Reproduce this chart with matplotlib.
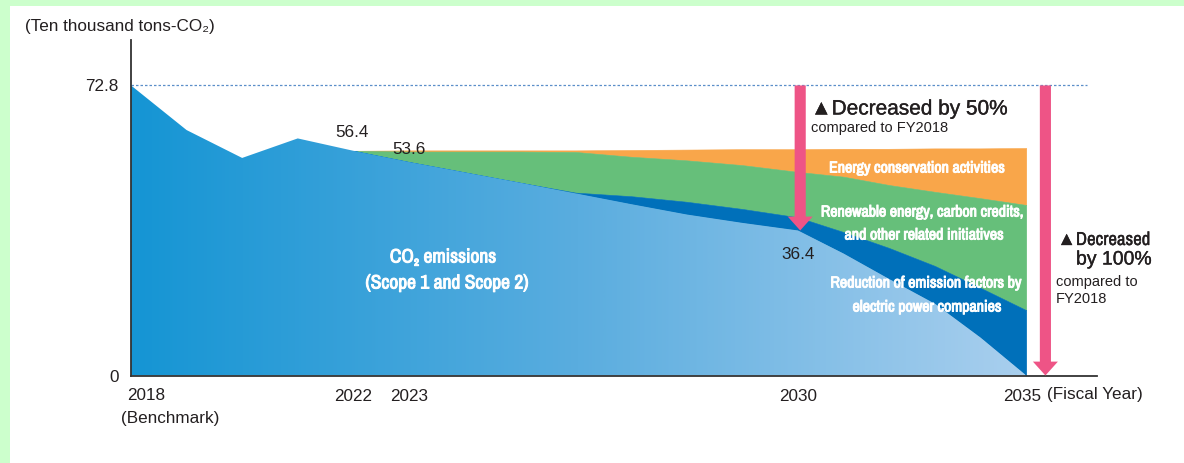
import numpy as np
import matplotlib
matplotlib.use("Agg")
import matplotlib.pyplot as plt
from matplotlib import font_manager as fm
from matplotlib import patheffects as pe
from matplotlib.patches import FancyArrowPatch, ArrowStyle, Rectangle
from matplotlib.colors import LinearSegmentedColormap
from matplotlib.transforms import ScaledTranslation

# ---- data (ten thousand tons-CO2) ----
hist_years = [2018, 2019, 2020, 2021, 2022]
hist_emissions = [72.8, 61.6, 54.6, 59.5, 56.4]

plan_years = list(range(2022, 2036))
plan_emissions = [56.4, 53.6, 51.0, 48.4, 45.7, 43.0, 40.4, 38.3, 36.4, 30.6, 24.2, 18.0, 9.5, 0.0]
cut_emission_factor = [0, 0, 0, 0, 0.2, 2.0, 3.2, 3.5, 3.3, 5.4, 7.8, 9.5, 12.5, 16.4]
cut_renewables = [0, 2.6, 5.2, 7.8, 10.2, 9.9, 10.4, 11.0, 11.4, 13.9, 15.8, 18.6, 22.5, 26.4]
cut_energy_saving = [0, 0.3, 0.3, 0.3, 0.4, 1.7, 2.7, 4.0, 5.7, 7.0, 9.1, 10.9, 12.5, 14.3]

base_year, base_value = 2018, 72.8
mid_year, mid_value = 2030, 36.4
target_year, target_value = 2035, 0.0
tick_years = [2022, 2023, 2030, 2035]

# ---- style ----
C_TEXT = "#231f20"
C_DARK = "#0070ba"
C_GREEN = "#66bf7a"
C_ORANGE = "#f9a64a"
C_PINK = "#ee5486"
C_PAGE = "#ccffcc"

names = {f.name for f in fm.fontManager.ttflist}
REG = ["Liberation Sans", "DejaVu Sans"]
narrow_names = [n for n in sorted(names) if "Narrow" in n or "Condensed" in n]
NARROW = (["Liberation Sans Narrow"] if "Liberation Sans Narrow" in names else narrow_names[:1]) + REG
plt.rcParams["font.family"] = REG

W, H = 1184, 463
fig = plt.figure(figsize=(W / 100, H / 100), dpi=100)
fig.patch.set_facecolor("white")
fig.add_artist(Rectangle((0, 1 - 6 / H), 1, 6 / H, transform=fig.transFigure,
                         color=C_PAGE, lw=0, zorder=-5))
fig.add_artist(Rectangle((0, 0), 10 / W, 1, transform=fig.transFigure,
                         color=C_PAGE, lw=0, zorder=-5))

x0, x1, yb, yt = 131, 1097, 375.5, 40
ax = fig.add_axes([x0 / W, 1 - yb / H, (x1 - x0) / W, (yb - yt) / H])
ax.set_facecolor("none")

# time axis: the last five years are drawn slightly compressed
K = 45.6 / 55.5


def fwd(x):
    x = np.asarray(x, float)
    return np.where(x <= 2030, x - 2018, 12 + (x - 2030) * K)


def inv(u):
    u = np.asarray(u, float)
    return np.where(u <= 12, u + 2018, 2030 + (u - 12) / K)


ax.set_xscale("function", functions=(fwd, inv))

# ---- stacked reduction bands ----
py = np.array(plan_years, float)
b0 = np.array(plan_emissions)
b1 = b0 + np.array(cut_emission_factor)
b2 = b1 + np.array(cut_renewables)
b3 = b2 + np.array(cut_energy_saving)
ax.fill_between(py, b2, b3, color=C_ORANGE, lw=0.4, ec=C_ORANGE, zorder=1)
ax.fill_between(py, b1, b2, color=C_GREEN, lw=0.4, ec=C_GREEN, zorder=2)
ax.fill_between(py, b0, b1, color=C_DARK, lw=0.4, ec=C_DARK, zorder=3)

# ---- emissions area with horizontal gradient ----
all_years = np.array(hist_years + plan_years[1:], float)
all_emis = np.array(hist_emissions + plan_emissions[1:])
poly = ax.fill_between(all_years, 0, all_emis, color="none", lw=0, zorder=4)
cmap = LinearSegmentedColormap.from_list("em", ["#1595d4", "#5aaddf", "#a9cfee"])
grad = np.linspace(0, 1, 512).reshape(1, -1)
im = ax.imshow(grad, cmap=cmap, aspect="auto", extent=[0, 0.925, 0, 1],
               transform=ax.transAxes, zorder=4, interpolation="bilinear")
im.set_clip_path(poly.get_paths()[0], ax.transData)

# ---- axes ----
ax.set_xlim(2018, 2036.55)
ax.set_ylim(0, 84.2)
for s in ["top", "right"]:
    ax.spines[s].set_visible(False)
for s in ["left", "bottom"]:
    ax.spines[s].set_color("#333333")
    ax.spines[s].set_linewidth(1.3)
    ax.spines[s].set_zorder(6)

FS = 12.3
ax.set_yticks([0, base_value], ["0", f"{base_value}"])
ax.set_xticks(tick_years, [str(y) for y in tick_years])
ax.tick_params(axis="both", length=0, colors=C_TEXT, labelsize=FS)
ax.tick_params(axis="y", pad=9)
ax.tick_params(axis="x", pad=9.5)
last = ax.get_xticklabels()[-1]
last.set_transform(last.get_transform() + ScaledTranslation(-4 / 100, 0, fig.dpi_scale_trans))

ax.axhline(base_value, xmin=0, xmax=0.99, color="#5b8fc9", lw=0.9,
           ls=(0, (2, 1.6)), zorder=0)

# ---- arrows ----
style = ArrowStyle.Simple(head_length=10, head_width=18, tail_width=8)
ax.add_patch(FancyArrowPatch((mid_year + 0.05, base_value), (mid_year + 0.05, mid_value),
                             arrowstyle=style, mutation_scale=1, color=C_PINK,
                             lw=0, shrinkA=0, shrinkB=0, zorder=7))
ax.add_patch(FancyArrowPatch((target_year + 0.42, base_value), (target_year + 0.42, target_value),
                             arrowstyle=style, mutation_scale=1, color=C_PINK,
                             lw=0, shrinkA=0, shrinkB=0, zorder=7, clip_on=False))


# ---- value labels ----
def vlabel(x, y, s, dx, dy):
    ax.annotate(s, (x, y), xytext=(dx, dy), textcoords="offset pixels",
                ha="center", va="center", color=C_TEXT, fontsize=FS, zorder=8)


vlabel(plan_years[0], plan_emissions[0], f"{plan_emissions[0]}", -1, 18)
vlabel(plan_years[1], plan_emissions[1], f"{plan_emissions[1]}", 0, 12)
vlabel(mid_year, mid_value, f"{mid_value}", 0, -24)


def ftext(px, py_, s, **kw):
    kw.setdefault("color", C_TEXT)
    return fig.text(px / W, 1 - py_ / H, s, **kw)


renderer = fig.canvas.get_renderer()


def fit_size(s, width_px, **kw):
    t = fig.text(0, 0, s, fontsize=12, **kw)
    w = t.get_window_extent(renderer).width
    t.remove()
    return 12 * width_px / w


heavy_dark = [pe.withStroke(linewidth=0.25, foreground=C_TEXT)]
heavy_white = [pe.withStroke(linewidth=0.7, foreground="white")]

ftext(25, 26, "(Ten thousand tons-CO₂)", fontsize=FS, va="center", ha="left")
ftext(127, 395, "2018", fontsize=FS, va="center", ha="left")
ftext(121, 418, "(Benchmark)", fontsize=FS, va="center", ha="left")
ftext(1047, 395, "(Fiscal Year)", fontsize=FS, va="center", ha="left")

ftext(811, 109, "▲Decreased by 50%", fontsize=15, va="center", ha="left",
      path_effects=heavy_dark)
ftext(811, 128, "compared to FY2018", fontsize=10.5, va="center", ha="left")
fs_dec = min(13.5, fit_size("▲Decreased", 94, family=NARROW))
ftext(1150, 240, "▲Decreased", fontsize=fs_dec, va="center", ha="right", family=NARROW,
      path_effects=heavy_dark)
ftext(1152, 260, "by 100%", fontsize=14, va="center", ha="right", path_effects=heavy_dark)
ftext(1056, 282, "compared to", fontsize=10.5, va="center", ha="left")
ftext(1056, 299, "FY2018", fontsize=10.5, va="center", ha="left")

wk = dict(color="white", family=NARROW, fontweight="bold", ha="center", va="center",
          path_effects=heavy_white)
fs_right = min(11.5, fit_size("Reduction of emission factors by", 190, family=NARROW, fontweight="bold"))
fs_left = min(14, fit_size("(Scope 1 and Scope 2)", 175, family=NARROW, fontweight="bold"))
ftext(917, 168, "Energy conservation activities", fontsize=fs_right, **wk)
ftext(922, 212, "Renewable energy, carbon credits,", fontsize=fs_right, **wk)
ftext(924, 235, "and other related initiatives", fontsize=fs_right, **wk)
ftext(926, 283, "Reduction of emission factors by", fontsize=fs_right, **wk)
ftext(927, 307, "electric power companies", fontsize=fs_right, **wk)
ftext(443, 257, "CO₂ emissions", fontsize=fs_left, **wk)
ftext(447, 283, "(Scope 1 and Scope 2)", fontsize=fs_left, **wk)

fig.savefig("out.png", dpi=100, facecolor=fig.get_facecolor())
